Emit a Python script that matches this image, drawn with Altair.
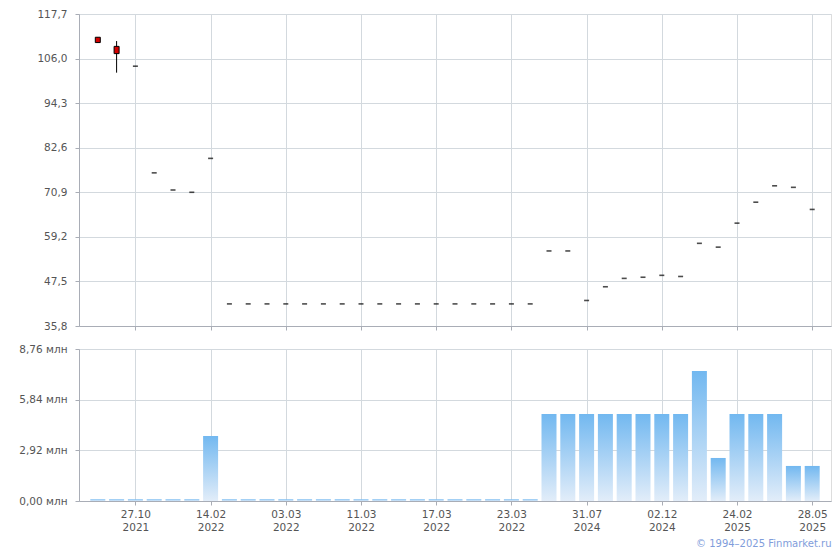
import altair as alt
import pandas as pd

# ---- data ----
idx = list(range(39))
open_ = [111.6, 109.2, 104.0, 76.0, 71.5, 70.9, 79.8,
         41.6, 41.6, 41.6, 41.6, 41.6, 41.6, 41.6, 41.6, 41.6, 41.6, 41.6, 41.6, 41.6, 41.6, 41.6, 41.6, 41.6,
         55.5, 55.5, 42.5, 46.1, 48.3, 48.6, 49.1, 48.8, 57.5, 56.5, 62.8, 68.3, 72.6, 72.2, 66.4]
close = [110.2, 107.3, 104.0, 76.0, 71.5, 70.9, 79.8,
         41.6, 41.6, 41.6, 41.6, 41.6, 41.6, 41.6, 41.6, 41.6, 41.6, 41.6, 41.6, 41.6, 41.6, 41.6, 41.6, 41.6,
         55.5, 55.5, 42.5, 46.1, 48.3, 48.6, 49.1, 48.8, 57.5, 56.5, 62.8, 68.3, 72.6, 72.2, 66.4]
high = [111.6, 110.6, 104.0, 76.0, 71.5, 70.9, 79.8,
        41.6, 41.6, 41.6, 41.6, 41.6, 41.6, 41.6, 41.6, 41.6, 41.6, 41.6, 41.6, 41.6, 41.6, 41.6, 41.6, 41.6,
        55.5, 55.5, 42.5, 46.1, 48.3, 48.6, 49.1, 48.8, 57.5, 56.5, 62.8, 68.3, 72.6, 72.2, 66.4]
low = [110.2, 102.3, 104.0, 76.0, 71.5, 70.9, 79.8,
       41.6, 41.6, 41.6, 41.6, 41.6, 41.6, 41.6, 41.6, 41.6, 41.6, 41.6, 41.6, 41.6, 41.6, 41.6, 41.6, 41.6,
       55.5, 55.5, 42.5, 46.1, 48.3, 48.6, 49.1, 48.8, 57.5, 56.5, 62.8, 68.3, 72.6, 72.2, 66.4]
volume = [0.1, 0.1, 0.1, 0.1, 0.1, 0.1, 3.75,
          0.1, 0.1, 0.1, 0.1, 0.1, 0.1, 0.1, 0.1, 0.1, 0.1, 0.1, 0.1, 0.1, 0.1, 0.1, 0.1, 0.1,
          5.01, 5.01, 5.01, 5.01, 5.01, 5.01, 5.01, 5.01, 7.49, 2.48, 5.01, 5.01, 5.01, 2.02, 2.02]

tick_idx = [2, 6, 10, 14, 18, 22, 26, 30, 34, 38]
tick_labels = ["27.10\n2021", "14.02\n2022", "03.03\n2022", "11.03\n2022", "17.03\n2022",
               "23.03\n2022", "31.07\n2024", "02.12\n2024", "24.02\n2025", "28.05\n2025"]
price_ticks = [35.8, 47.5, 59.2, 70.9, 82.6, 94.3, 106.0, 117.7]
vol_ticks = [0.00, 2.92, 5.84, 8.76]

df = pd.DataFrame({"i": idx, "open": open_, "close": close, "high": high, "low": low, "vol": volume})

FONT = "DejaVu Sans"
LABEL_C = "#555555"
GRID_C = "#d3d9de"
DOMAIN_C = "#a9adb6"
FS = 10.5

labels_js = "[" + ",".join("'" + s.replace("\n", "|") + "'" for s in tick_labels) + "]"
ticks_js = "[" + ",".join(str(t) for t in tick_idx) + "]"
x_label_expr = f"split({labels_js}[indexof({ticks_js}, datum.value)], '|')"

x_scale = alt.Scale(domain=[-1, 39], nice=False, zero=False, padding=0)

x_axis_top = alt.Axis(values=tick_idx, labels=False, title=None, grid=True, gridColor=GRID_C,
                      domainColor=DOMAIN_C, tickColor=DOMAIN_C, tickSize=4)
x_axis_bot = alt.Axis(values=tick_idx, labelExpr=x_label_expr, title=None, grid=True, gridColor=GRID_C,
                      domainColor=DOMAIN_C, tickColor=DOMAIN_C, tickSize=4, labelColor=LABEL_C,
                      labelFont=FONT, labelFontSize=FS, labelPadding=4, labelLineHeight=13)

y_price_axis = alt.Axis(values=price_ticks, title=None, grid=True, gridColor=GRID_C,
                        domainColor=DOMAIN_C, tickColor=DOMAIN_C, tickSize=4,
                        labelExpr="replace(format(datum.value, '.1f'), '.', ',')",
                        labelColor=LABEL_C, labelFont=FONT, labelFontSize=FS, labelPadding=8)
y_vol_axis = alt.Axis(values=vol_ticks, title=None, grid=True, gridColor=GRID_C,
                      domainColor=DOMAIN_C, tickColor=DOMAIN_C, tickSize=4,
                      labelExpr="replace(format(datum.value, '.2f'), '.', ',') + ' млн'",
                      labelColor=LABEL_C, labelFont=FONT, labelFontSize=FS, labelPadding=8)

y_price_scale = alt.Scale(domain=[35.8, 117.7], nice=False, zero=False, padding=0)

base = alt.Chart(df)
xenc = alt.X("i:Q", scale=x_scale, axis=x_axis_top)

wick = base.mark_rule(color="black", strokeWidth=1).encode(
    x=xenc,
    y=alt.Y("low:Q", scale=y_price_scale, axis=y_price_axis),
    y2="high:Q",
).transform_filter("datum.high > datum.low")

body = base.mark_bar(size=5, fill="#d40000", stroke="black", strokeWidth=1).encode(
    x=xenc,
    y=alt.Y("open:Q", scale=y_price_scale, axis=y_price_axis),
    y2="close:Q",
).transform_filter("datum.open != datum.close")

dash = base.mark_tick(orient="horizontal", size=5, thickness=1.6, color="black").encode(
    x=xenc,
    y=alt.Y("close:Q", scale=y_price_scale, axis=y_price_axis),
).transform_filter("datum.open == datum.close")

top = alt.layer(wick, body, dash).properties(width=752, height=312)

grad = alt.Gradient(gradient="linear", x1=0, y1=0, x2=0, y2=1,
                    stops=[alt.GradientStop(color="#72b8f0", offset=0),
                           alt.GradientStop(color="#e2edf9", offset=1)])

bottom = base.mark_bar(size=15, fill=grad).encode(
    x=alt.X("i:Q", scale=x_scale, axis=x_axis_bot),
    y=alt.Y("vol:Q", scale=alt.Scale(domain=[0, 8.76], nice=False, padding=0), axis=y_vol_axis),
).properties(width=752, height=152)

chart = alt.vconcat(top, bottom, spacing=11).properties(
    padding={"left": 10, "top": 0, "right": 0, "bottom": 0},
    title=alt.TitleParams("© 1994–2025 Finmarket.ru", orient="bottom", anchor="end",
                          font=FONT, fontSize=10, fontWeight="normal", color="#7f9ddb", offset=6),
).configure_view(strokeWidth=0).configure(background="white")

chart.save("out.html", embed_options={"renderer": "svg", "actions": False})
